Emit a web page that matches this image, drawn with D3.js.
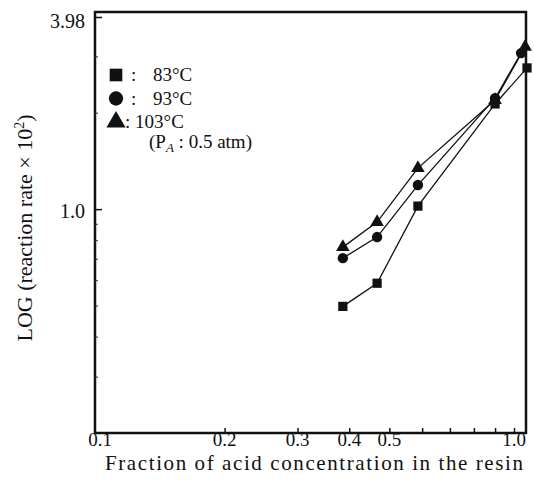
<!DOCTYPE html>
<html>
<head>
<meta charset="utf-8">
<script src="https://cdn.jsdelivr.net/npm/d3@7"></script>
<style>
  body { margin: 0; background: #fff; }
  svg { display: block; }
  text { font-family: "Liberation Serif", "DejaVu Serif", serif; fill: #111; }
</style>
</head>
<body>
<svg id="chart" width="534" height="496"></svg>
<script>
// data
const acidFrac = [0.386, 0.467, 0.586, 0.90, 1.06];
const rate83 = [0.497, 0.587, 1.022, 2.13, 2.76];
const rate93 = [0.703, 0.818, 1.189, 2.22, 3.07];
const rate103 = [0.761, 0.911, 1.343, 2.19, 3.21];
const lastX = {83: 1.075, 93: 1.04, 103: 1.064};

const xTickLabels = [0.1, 0.2, 0.3, 0.4, 0.5, 1.0];
const xMinor = [0.2, 0.3, 0.4, 0.5, 0.6, 0.7, 0.8, 0.9, 1.0];
const yTickLabels = [1.0, 3.98];
const yMinor = [0.3, 0.4, 0.5, 0.6, 0.7, 0.8, 0.9, 2, 3];

const series = [
  {name: '83\u00b0C', sym: d3.symbolSquare, size: 85, vals: rate83, key: 83},
  {name: '93\u00b0C', sym: d3.symbolCircle, size: 85, vals: rate93, key: 93},
  {name: '103\u00b0C', sym: d3.symbolTriangle, size: 80, vals: rate103, key: 103}
];

const svg = d3.select('#chart');
const mLeft = 95, mRight = 526, mTop = 12, mBottom = 433;

const x = d3.scaleLog().domain([0.1, 1]).range([100, 514]);
const y = d3.scaleLog().domain([0.2, 3.98]).range([mBottom, 17]);

// frame
svg.append('rect')
  .attr('x', mLeft).attr('y', mTop)
  .attr('width', mRight - mLeft).attr('height', mBottom - mTop)
  .attr('fill', 'none').attr('stroke', '#111').attr('stroke-width', 2.5);

// bottom axis ticks (inward) and labels
svg.append('g')
  .attr('transform', `translate(0,${mBottom})`)
  .call(d3.axisTop(x).tickValues(xMinor).tickSize(5).tickFormat(''))
  .call(g => g.select('.domain').remove())
  .call(g => g.selectAll('text').remove())
  .selectAll('line').attr('stroke', '#111').attr('stroke-width', 1.5);

svg.append('g').selectAll('text')
  .data(xTickLabels).join('text')
  .attr('x', d => x(d)).attr('y', mBottom + 13)
  .attr('text-anchor', 'middle')
  .style('font-size', '19px')
  .text(d => d3.format('.1f')(d));

// left axis ticks
svg.append('g')
  .attr('transform', `translate(${mLeft},0)`)
  .call(d3.axisRight(y).tickValues(yTickLabels).tickSize(7).tickFormat(''))
  .call(g => g.select('.domain').remove())
  .call(g => g.selectAll('text').remove())
  .selectAll('line').attr('stroke', '#111').attr('stroke-width', 1.5);
svg.append('g')
  .attr('transform', `translate(${mLeft},0)`)
  .call(d3.axisRight(y).tickValues(yMinor).tickSize(3).tickFormat(''))
  .call(g => g.select('.domain').remove())
  .call(g => g.selectAll('text').remove())
  .selectAll('line').attr('stroke', '#333').attr('stroke-width', 1);

svg.append('g').selectAll('text')
  .data(yTickLabels).join('text')
  .attr('x', mLeft - 10).attr('y', d => y(d) + (d > 2 ? 11 : 9))
  .attr('text-anchor', 'end')
  .style('font-size', '20px')
  .text(d => d === 3.98 ? '3.98' : '1.0');

// axis titles
svg.append('text')
  .attr('x', 105).attr('y', 470)
  .attr('textLength', 418).attr('lengthAdjust', 'spacing')
  .style('font-size', '21px')
  .text('Fraction of acid concentration in the resin');

const yt = svg.append('text')
  .attr('transform', 'translate(32,228) rotate(-90)')
  .attr('text-anchor', 'middle')
  .style('font-size', '22px');
yt.append('tspan').text('LOG (reaction rate \u00d7 10');
yt.append('tspan').attr('dy', -8).style('font-size', '14px').text('2');
yt.append('tspan').attr('dy', 8).text(')');

// series lines and markers
const line = d3.line().x(d => x(d[0])).y(d => y(d[1]));
series.forEach(s => {
  const pts = s.vals.map((v, i) => [i === s.vals.length - 1 ? lastX[s.key] : acidFrac[i], v]);
  svg.append('path')
    .attr('d', line(pts))
    .attr('fill', 'none').attr('stroke', '#111').attr('stroke-width', 1.3);
  svg.append('g').selectAll('path')
    .data(pts).join('path')
    .attr('transform', d => `translate(${x(d[0])},${y(d[1])})`)
    .attr('d', d3.symbol(s.sym, s.size))
    .attr('fill', '#111');
});

// legend
const lg = svg.append('g');
series.forEach((s, i) => {
  const ly = 75 + i * 23.5;
  lg.append('path')
    .attr('transform', `translate(116,${ly})`)
    .attr('d', d3.symbol(s.sym, 160))
    .attr('fill', '#111');
  lg.append('text')
    .attr('x', i === 2 ? 125 : 131).attr('y', ly + 6)
    .style('font-size', '19px')
    .text(i === 2 ? ': ' + s.name : ':');
  if (i < 2) {
    lg.append('text')
      .attr('x', 153).attr('y', ly + 6)
      .style('font-size', '19px')
      .text(s.name);
  }
});
const pa = lg.append('text')
  .attr('x', 149).attr('y', 148)
  .style('font-size', '19px');
pa.append('tspan').text('(P');
pa.append('tspan').attr('dy', 4).style('font-size', '13px').style('font-style', 'italic').text('A');
pa.append('tspan').attr('dy', -4).text(' : 0.5 atm)');
</script>
</body>
</html>
